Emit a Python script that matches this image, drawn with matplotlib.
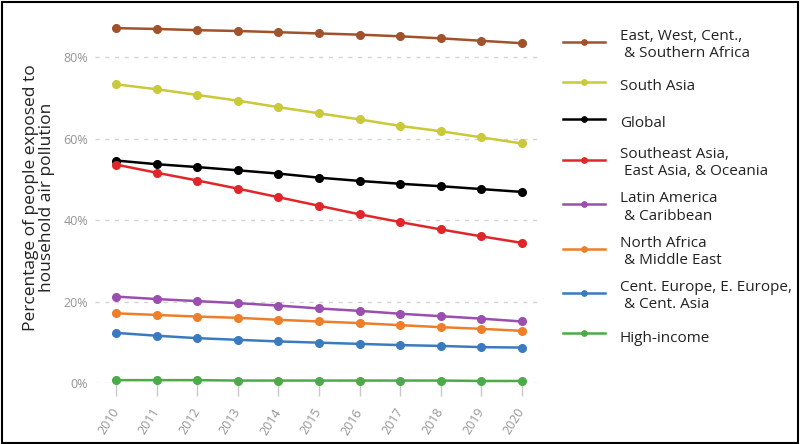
import numpy as np
import matplotlib
matplotlib.use("Agg")
import matplotlib.pyplot as plt
from matplotlib.patches import Rectangle

plt.rcParams['font.family'] = ['Open Sans', 'DejaVu Sans']

# dane (%)
lata = list(range(2010, 2021))
afryka = [87.1, 86.9, 86.6, 86.4, 86.1, 85.8, 85.5, 85.1, 84.6, 84.0, 83.4]
azja_pd = [73.3, 72.1, 70.7, 69.3, 67.7, 66.2, 64.7, 63.1, 61.8, 60.3, 58.8]
globalnie = [54.6, 53.7, 53.0, 52.2, 51.4, 50.4, 49.6, 48.9, 48.3, 47.6, 46.9]
azja_wsch = [53.6, 51.6, 49.7, 47.7, 45.6, 43.5, 41.4, 39.5, 37.7, 36.0, 34.4]
ameryka_lac = [21.2, 20.6, 20.1, 19.6, 19.0, 18.3, 17.7, 17.0, 16.4, 15.8, 15.1]
afryka_pn = [17.1, 16.7, 16.3, 16.0, 15.5, 15.1, 14.7, 14.2, 13.7, 13.3, 12.8]
europa = [12.3, 11.6, 11.0, 10.6, 10.2, 9.9, 9.6, 9.3, 9.1, 8.8, 8.7]
wysoki_dochod = [0.7, 0.7, 0.7, 0.6, 0.6, 0.6, 0.6, 0.6, 0.6, 0.5, 0.5]

serie = [
    (afryka, 'East, West, Cent.,\n & Southern Africa', '#a0522d'),
    (azja_pd, 'South Asia', '#c9c93a'),
    (globalnie, 'Global', '#000000'),
    (azja_wsch, 'Southeast Asia,\n East Asia, & Oceania', '#e0262a'),
    (ameryka_lac, 'Latin America\n & Caribbean', '#9a4fae'),
    (afryka_pn, 'North Africa\n & Middle East', '#ee7f2a'),
    (europa, 'Cent. Europe, E. Europe,\n & Cent. Asia', '#3a7bbf'),
    (wysoki_dochod, 'High-income', '#4aab48'),
]

fig = plt.figure(figsize=(8, 4.44), dpi=100)
ax = fig.add_axes([0.119, 0.1374, 0.557, 0.835])

for wartosci, nazwa, kolor in serie:
    ax.plot(lata, wartosci, color=kolor, lw=1.8, marker='o', ms=5.5,
            label=nazwa, clip_on=False, zorder=3)

ax.set_xlim(2009.48, 2020.47)
ax.set_ylim(0, 91)
ax.set_yticks([0, 20, 40, 60, 80])
ax.set_yticklabels(['0%', '20%', '40%', '60%', '80%'])
ax.set_xticks(lata)
ax.set_xticklabels([str(r) for r in lata], rotation=58, ha='right',
                   va='center', rotation_mode='anchor')
ax.grid(axis='y', color='#d4d4d4', ls=(0, (3, 4)), lw=1)
ax.tick_params(axis='y', length=0, pad=5, labelsize=9, labelcolor='#959595')
ax.tick_params(axis='x', length=9, width=1.0, color='#c8c8c8', pad=10,
               labelsize=9, labelcolor='#959595')
for s in ax.spines.values():
    s.set_visible(False)

ax.set_ylabel('Percentage of people exposed to\nhousehold air pollution',
              fontsize=12.5, color='#222222', labelpad=6, linespacing=1.0)

fig.legend(loc='upper left', bbox_to_anchor=(0.687, 0.966), frameon=False,
           fontsize=11, handlelength=2.7, handleheight=2.1, handletextpad=1.0,
           labelspacing=0.8, labelcolor='#222222', markerscale=0.7)

fig.add_artist(Rectangle((0.002, 0.003), 0.995, 0.993, transform=fig.transFigure,
                         fill=False, ec='black', lw=1.5))

fig.savefig('out.png', dpi=100)
